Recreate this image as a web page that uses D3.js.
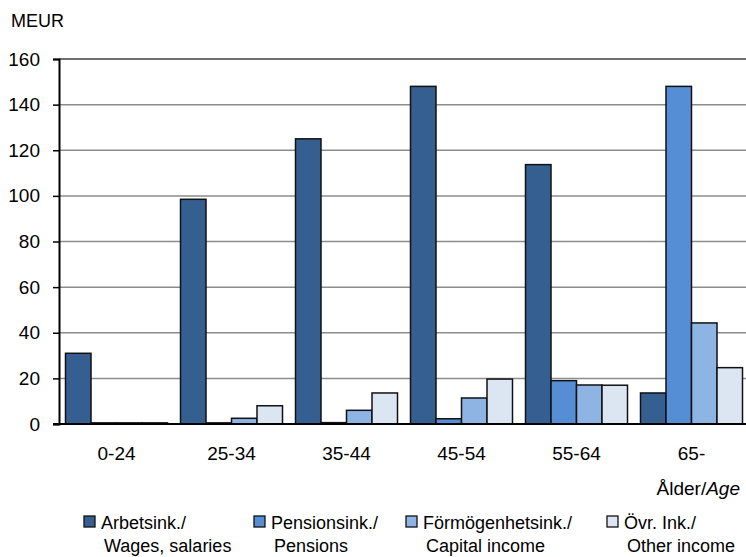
<!DOCTYPE html>
<html lang="sv">
<head>
<meta charset="UTF-8">
<title>Inkomster efter ålder</title>
<script src="https://cdn.jsdelivr.net/npm/d3@7/dist/d3.min.js"></script>
<style>
  body { margin: 0; background: #fff; }
  text { font-family: "Liberation Sans", Arial, sans-serif; fill: #000; }
</style>
</head>
<body>
<div class="chart"></div>
<script>
    // data
    const ages = ['0-24', '25-34', '35-44', '45-54', '55-64', '65-']
    const series = ['arb', 'pen', 'form', 'ovr']
    const wages = [31, 98.5, 125, 148, 113.7, 13.6]
    const pensions = [0.5, 0.5, 0.6, 2.3, 19, 148]
    const capital = [0.5, 2.5, 6, 11.4, 17.1, 44.3]
    const other = [0.5, 8, 13.6, 19.7, 17, 24.7]
    const yTicks = [0, 20, 40, 60, 80, 100, 120, 140, 160]
    const legendLines = [
        ['Arbetsink./', 'Wages, salaries'],
        ['Pensionsink./', 'Pensions'],
        ['Förmögenhetsink./', 'Capital income'],
        ['Övr. Ink./', 'Other income']
    ]
    const colors = ['#355f91', '#558ed5', '#8eb4e3', '#dce6f2']

    const values = [wages, pensions, capital, other]

    const W = 746, H = 557
    const mLeft = 59, mRight = 749, mTop = 59, mBottom = 424

    let svg = d3.select('.chart').append('svg').attr('width', W).attr('height', H)

    let x0 = d3.scaleBand().domain(ages).range([mLeft, mRight]).paddingInner(13 / 115).paddingOuter(6.5 / 115)
    let x1 = d3.scaleBand().domain(series).range([0, x0.bandwidth()])
    let y = d3.scaleLinear().domain([0, 160]).range([mBottom, mTop])
    let color = d3.scaleOrdinal().domain(series).range(colors)

    // gridlines
    svg.append('g').selectAll('line').data(yTicks.filter(d => d > 0 && d < 160)).join('line')
        .attr('x1', mLeft).attr('x2', mRight)
        .attr('y1', d => y(d)).attr('y2', d => y(d))
        .attr('stroke', '#8c8c8c').attr('stroke-width', 1.5)
    svg.append('line').attr('x1', mLeft).attr('x2', mRight).attr('y1', y(160)).attr('y2', y(160))
        .attr('stroke', '#404040').attr('stroke-width', 1.5)

    // bars
    let rows = []
    ages.forEach((a, i) => series.forEach((s, j) => rows.push({age: a, key: s, v: values[j][i]})))
    svg.append('g').selectAll('rect').data(rows).join('rect')
        .attr('x', d => x0(d.age) + x1(d.key))
        .attr('width', x1.bandwidth())
        .attr('y', d => y(d.v))
        .attr('height', d => y(0) - y(d.v))
        .attr('fill', d => color(d.key))
        .attr('stroke', '#111').attr('stroke-width', 1.5)

    // axes
    let yAxis = d3.axisLeft(y).tickValues(yTicks).tickSize(6).tickPadding(13)
    let gy = svg.append('g').attr('transform', `translate(${mLeft},0)`).call(yAxis)
    gy.select('.domain').attr('stroke', '#000').attr('stroke-width', 2)
    gy.selectAll('.tick line').attr('stroke', '#000').attr('stroke-width', 1.5)
    gy.selectAll('text').attr('font-size', 19).attr('font-family', '"Liberation Sans", Arial, sans-serif')

    let xAxis = d3.axisBottom(x0).tickSize(0).tickPadding(23)
    let gx = svg.append('g').attr('transform', `translate(0,${mBottom})`).call(xAxis)
    gx.select('.domain').remove()
    svg.append('line').attr('x1', mLeft - 6).attr('x2', mRight).attr('y1', mBottom).attr('y2', mBottom)
        .attr('stroke', '#000').attr('stroke-width', 2)
    gx.selectAll('text').attr('font-size', 19).attr('font-family', '"Liberation Sans", Arial, sans-serif')

    // titles
    svg.append('text').attr('x', 11).attr('y', 27).attr('font-size', 18).text('MEUR')
    let at = svg.append('text').attr('x', 740).attr('y', 495).attr('text-anchor', 'end').attr('font-size', 19)
    at.append('tspan').text('Ålder/')
    at.append('tspan').attr('font-style', 'italic').text('Age')

    // legend
    const legX = [84, 254, 406, 607]
    let lg = svg.append('g').selectAll('g').data(series).join('g')
        .attr('transform', (d, i) => `translate(${legX[i]},516)`)
    lg.append('rect').attr('width', 11).attr('height', 11)
        .attr('fill', d => color(d)).attr('stroke', '#111').attr('stroke-width', 1.3)
    lg.append('text').attr('x', 17).attr('y', 13).attr('font-size', 18).text((d, i) => legendLines[i][0])
    lg.append('text').attr('x', 20).attr('y', 36).attr('font-size', 18).text((d, i) => legendLines[i][1])
</script>
</body>
</html>
